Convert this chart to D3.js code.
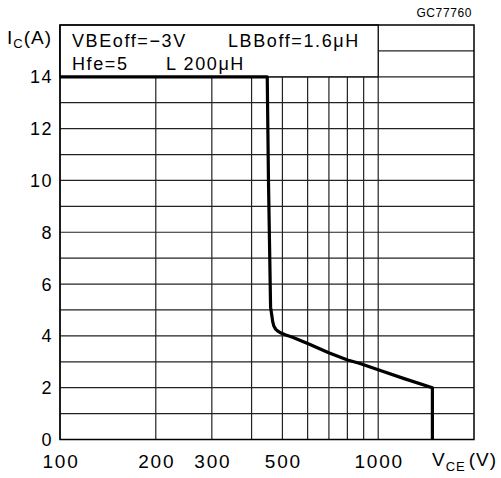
<!DOCTYPE html>
<html>
<head>
<meta charset="utf-8">
<script src="https://cdn.jsdelivr.net/npm/d3@7"></script>
<style>
  body { margin: 0; background: #fff; }
  text { font-family: "Liberation Sans", Arial, sans-serif; fill: #000; }
</style>
</head>
<body>
<svg id="chart" width="501" height="478"></svg>
<script>
// values
var vce = [100, 448, 452, 459, 463, 466, 470, 476, 484, 495, 510, 538, 608, 699, 801, 872, 1000, 1200, 1480, 1480];
var ic  = [14, 14, 10, 5.1, 4.8, 4.55, 4.38, 4.26, 4.18, 4.11, 4.04, 3.95, 3.68, 3.35, 3.07, 2.94, 2.69, 2.36, 2.0, 0];
var xTicks = [100, 200, 300, 500, 1000];
var xGrid = [100, 200, 300, 400, 500, 600, 700, 800, 900, 1000];
var yTicks = [0, 2, 4, 6, 8, 10, 12, 14];
var legendLines = [["VBEoff=\u22123V", "LBBoff=1.6\u03bcH"], ["Hfe=5", "L 200\u03bcH"]];

function drawChart() {
  var svg = d3.select("#chart"),
    x0 = 60, x1 = 474, y0 = 439.5, y1 = 25;

  var x = d3.scaleLog().domain([100, 2000]).range([x0, x1]),
    y = d3.scaleLinear().domain([0, 16]).range([y0, y1]);

  var grid = svg.append("g").attr("stroke", "#222").attr("stroke-width", 1.2);

  // horizontal grid every 1 A
  grid.selectAll(".hl")
    .data(d3.range(1, 16))
    .enter().append("line")
    .attr("x1", x0).attr("x2", x1)
    .attr("y1", function(d) { return y(d); })
    .attr("y2", function(d) { return y(d); });

  // vertical grid up to 1000 V
  grid.selectAll(".vl")
    .data(xGrid)
    .enter().append("line")
    .attr("x1", function(d) { return x(d); })
    .attr("x2", function(d) { return x(d); })
    .attr("y1", y0).attr("y2", y1);

  // legend box between 14 and 16 A
  svg.append("rect")
    .attr("x", x(100)).attr("y", y(16))
    .attr("width", x(1000) - x(100)).attr("height", y(14) - y(16))
    .attr("fill", "#fff").attr("stroke", "#111").attr("stroke-width", 1.3);

  // frame
  svg.append("rect")
    .attr("x", x0).attr("y", y1)
    .attr("width", x1 - x0).attr("height", y0 - y1)
    .attr("fill", "none").attr("stroke", "#000").attr("stroke-width", 1.5);

  var line = d3.line()
    .x(function(d, i) { return x(vce[i]); })
    .y(function(d) { return y(d); })
    .curve(d3.curveLinear);

  svg.append("path")
    .datum(ic)
    .attr("d", line)
    .attr("fill", "none")
    .attr("stroke", "#000")
    .attr("stroke-width", 3.2)
    .attr("stroke-linejoin", "round");

  // tick labels
  svg.selectAll(".yl")
    .data(yTicks)
    .enter().append("text")
    .attr("x", 53)
    .attr("y", function(d) { return y(d) + 6.5; })
    .attr("text-anchor", "end")
    .attr("font-size", 18)
    .attr("letter-spacing", 1.5)
    .text(function(d) { return d; });

  svg.selectAll(".xl")
    .data(xTicks)
    .enter().append("text")
    .attr("x", function(d) { return x(d) + 1; })
    .attr("y", 468)
    .attr("text-anchor", "middle")
    .attr("font-size", 19)
    .attr("letter-spacing", 1.8)
    .text(function(d) { return d; });

  // axis titles
  var yt = svg.append("text").attr("x", 7).attr("y", 44).attr("font-size", 19).attr("letter-spacing", 1);
  yt.append("tspan").text("I");
  yt.append("tspan").attr("font-size", 13).attr("dy", 4).text("C");
  yt.append("tspan").attr("dy", -4).text("(A)");

  var xt = svg.append("text").attr("x", 432).attr("y", 466).attr("font-size", 19).attr("letter-spacing", 1);
  xt.append("tspan").text("V");
  xt.append("tspan").attr("font-size", 13).attr("dy", 5).text("CE");
  xt.append("tspan").attr("dy", -5).attr("dx", 3).text("(V)");

  // legend text
  var lx = [[72, 228], [72, 166]];
  legendLines.forEach(function(row, r) {
    row.forEach(function(s, c) {
      svg.append("text")
        .attr("x", lx[r][c])
        .attr("y", 47 + r * 23)
        .attr("font-size", 18)
        .attr("letter-spacing", 1.6)
        .text(s);
    });
  });

  svg.append("text")
    .attr("x", 472).attr("y", 17)
    .attr("text-anchor", "end")
    .attr("font-size", 12)
    .attr("letter-spacing", 0.6)
    .text("GC77760");
}

drawChart();
</script>
</body>
</html>
